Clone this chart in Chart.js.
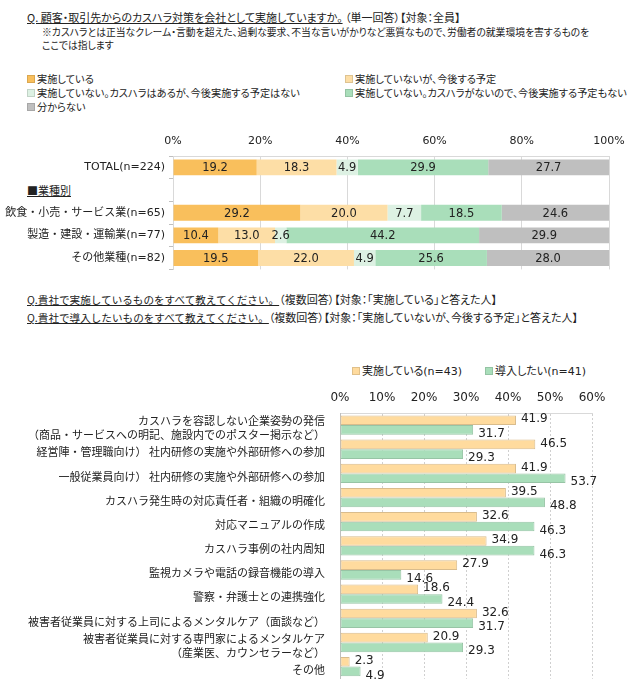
<!DOCTYPE html>
<html lang="ja">
<head>
<meta charset="UTF-8">
<title>カスハラ対策の実施状況</title>
<style>
    * { margin: 0; padding: 0; box-sizing: border-box; }
    body {
        width: 636px; height: 700px; position: relative; overflow: hidden;
        background: #fff; color: #222;
        font-family: "Noto Sans CJK JP", sans-serif; font-size: 11px;
    }
    .txt {
        position: absolute; white-space: nowrap; line-height: 13px;
        font-feature-settings: "palt" 1;
    }
    .note { font-size: 9.8px; }
    .q2 u { font-feature-settings: normal; font-size: 10.6px; }
    .legend { position: absolute; white-space: nowrap; font-size: 10.2px; line-height: 14px; font-feature-settings: "palt" 1; }
    .legend span.item { position: absolute; white-space: nowrap; }
    .legend .box {
        display: inline-block; width: 8px; height: 8px; margin-right: 2px;
        vertical-align: 0px; border: 1px solid rgba(0,0,0,0.12);
    }
    #legend2 { font-family: "DejaVu Sans", "Noto Sans CJK JP", sans-serif; font-size: 11px; }
    canvas { position: absolute; left: 0; }
</style>
</head>
<body>

<div class="txt" style="left:27px; top:11px;"><u>Q. 顧客・取引先からのカスハラ対策を会社として実施していますか。</u> （単一回答）【対象：全員】</div>
<div class="txt note" style="left:42px; top:26px;">※カスハラとは正当なクレーム・言動を超えた、過剰な要求、不当な言いがかりなど悪質なもので、労働者の就業環境を害するものを</div>
<div class="txt note" style="left:42px; top:39px;">ここでは指します</div>

<div class="legend" id="legend1"></div>
<div class="txt" style="left:27px; top:184px;"><u>■業種別</u></div>
<canvas id="chart1" width="636" height="160" style="top:120px;"></canvas>

<div class="txt q2" style="left:27px; top:293px;"><u>Q.貴社で実施しているものをすべて教えてください。</u>（複数回答）【対象：「実施している」と答えた人】</div>
<div class="txt q2" style="left:27px; top:311px;"><u>Q.貴社で導入したいものをすべて教えてください。</u>（複数回答）【対象：「実施していないが、今後する予定」と答えた人】</div>

<div class="legend" id="legend2"></div>
<canvas id="chart2" width="636" height="317" style="top:383px;"></canvas>

<script src="https://cdn.jsdelivr.net/npm/chart.js"></script>
<script>
// ---- データ：実施状況（単一回答）
const groups1 = ['TOTAL(n=224)', '', '飲食・小売・サービス業(n=65)', '製造・建設・運輸業(n=77)', 'その他業種(n=82)'];
const answers1 = [
    '実施している',
    '実施していないが、今後する予定',
    '実施していない。カスハラはあるが、今後実施する予定はない',
    '実施していない。カスハラがないので、今後実施する予定もない',
    '分からない'
];
const implemented = [19.2, null, 29.2, 10.4, 19.5];
const planned = [18.3, null, 20.0, 13.0, 22.0];
const noPlanWithHarassment = [4.9, null, 7.7, 2.6, 4.9];
const noPlanNoHarassment = [29.9, null, 18.5, 44.2, 25.6];
const unknown = [27.7, null, 24.6, 29.9, 28.0];
const ticks1 = [0, 20, 40, 60, 80, 100];

// ---- データ：実施内容／導入希望（複数回答）
const measures = [
    ['カスハラを容認しない企業姿勢の発信', '（商品・サービスへの明記、施設内でのポスター掲示など）'],
    '経営陣・管理職向け） 社内研修の実施や外部研修への参加',
    '一般従業員向け） 社内研修の実施や外部研修への参加',
    'カスハラ発生時の対応責任者・組織の明確化',
    '対応マニュアルの作成',
    'カスハラ事例の社内周知',
    '監視カメラや電話の録音機能の導入',
    '警察・弁護士との連携強化',
    '被害者従業員に対する上司によるメンタルケア（面談など）',
    ['被害者従業員に対する専門家によるメンタルケア', '（産業医、カウンセラーなど）'],
    'その他'
];
const series2 = ['実施している(n=43)', '導入したい(n=41)'];
const doingNow = [41.9, 46.5, 41.9, 39.5, 32.6, 34.9, 27.9, 18.6, 32.6, 20.9, 2.3];
const wantToAdd = [31.7, 29.3, 53.7, 48.8, 46.3, 46.3, 14.6, 24.4, 31.7, 29.3, 4.9];
const ticks2 = [0, 10, 20, 30, 40, 50, 60];

const colors1 = ['#F9BF5C', '#FDDEA6', '#DDF1E3', '#A9DEBA', '#BFBFBF'];
const colors2 = ['#FFDB9E', '#A9DEBA'];
const borders2 = ['#D9BC8C', '#97C4A5'];

const numFont = "'DejaVu Sans', 'Noto Sans CJK JP', sans-serif";
const jpFont = "'Noto Sans CJK JP', sans-serif";

// 凡例（HTML）
function legendItem(color, text, left, top) {
    return '<span class="item" style="left:' + left + 'px; top:' + top + 'px;">' +
        '<span class="box" style="background:' + color + '"></span>' + text + '</span>';
}
const pos1 = [[27, 72], [345, 72], [27, 86], [345, 86], [27, 100]];
document.getElementById('legend1').innerHTML =
    answers1.map((a, i) => legendItem(colors1[i], a, pos1[i][0], pos1[i][1])).join('');
document.getElementById('legend2').innerHTML =
    legendItem(colors2[0], series2[0], 352, 365) + legendItem(colors2[1], series2[1], 485, 365);

// 数値ラベル
const valueLabels = {
    id: 'valueLabels',
    afterDatasetsDraw(chart, args, opts) {
        const ctx = chart.ctx;
        ctx.save();
        ctx.font = opts.font;
        ctx.fillStyle = '#222';
        chart.data.datasets.forEach((ds, i) => {
            chart.getDatasetMeta(i).data.forEach((bar, j) => {
                const v = ds.data[j];
                if (v == null) return;
                const text = v.toFixed(1);
                ctx.textBaseline = 'middle';
                if (opts.inside) {
                    ctx.textAlign = 'center';
                    ctx.fillText(text, (bar.x + bar.base) / 2, bar.y + 1);
                } else {
                    ctx.textAlign = 'left';
                    ctx.fillText(text, bar.x + 5, bar.y + opts.shift[i]);
                }
            });
        });
        ctx.restore();
    }
};

const datasets1 = [implemented, planned, noPlanWithHarassment, noPlanNoHarassment, unknown].map((d, i) => ({
    label: answers1[i],
    data: d,
    backgroundColor: colors1[i],
    borderWidth: 0,
    barPercentage: 0.7,
    categoryPercentage: 1.0
}));

new Chart(document.getElementById('chart1'), {
    type: 'bar',
    data: { labels: groups1, datasets: datasets1 },
    plugins: [valueLabels],
    options: {
        indexAxis: 'y',
        responsive: false,
        animation: false,
        layout: { padding: { left: 0, right: 27, top: 0, bottom: 7 } },
        plugins: {
            legend: { display: false },
            tooltip: { enabled: false },
            valueLabels: { inside: true, font: '11.5px ' + numFont }
        },
        scales: {
            x: {
                position: 'top',
                stacked: true,
                min: 0, max: 100,
                afterBuildTicks: s => { s.ticks = ticks1.map(v => ({ value: v })); },
                afterFit: s => { s.height = 36; },
                ticks: { padding: 8, color: '#222', font: { family: numFont, size: 11 }, callback: v => v + '%' },
                grid: { color: '#D9D9D9', drawTicks: false },
                border: { color: '#D9D9D9' }
            },
            y: {
                stacked: true,
                afterFit: s => { s.width = 173; },
                ticks: { autoSkip: false, padding: 4, color: '#222', font: { family: numFont, size: 11 } },
                grid: { offset: true, drawOnChartArea: false, tickLength: 4, color: '#BFBFBF' },
                border: { color: '#D9D9D9' }
            }
        }
    }
});

new Chart(document.getElementById('chart2'), {
    type: 'bar',
    data: {
        labels: measures,
        datasets: [doingNow, wantToAdd].map((d, i) => ({
            label: series2[i],
            data: d,
            backgroundColor: colors2[i],
            borderColor: borders2[i],
            borderWidth: 1,
            borderSkipped: false,
            barPercentage: 1.0,
            categoryPercentage: 0.8
        }))
    },
    plugins: [valueLabels],
    options: {
        indexAxis: 'y',
        responsive: false,
        animation: false,
        layout: { padding: { left: 0, right: 44, top: 0, bottom: 10 } },
        plugins: {
            legend: { display: false },
            tooltip: { enabled: false },
            valueLabels: { inside: false, font: '12px ' + numFont, shift: [-1, 4] }
        },
        scales: {
            x: {
                position: 'top',
                min: 0, max: 60,
                afterBuildTicks: s => { s.ticks = ticks2.map(v => ({ value: v })); },
                afterFit: s => { s.height = 30; },
                ticks: { padding: 8, color: '#222', font: { family: numFont, size: 12 }, callback: v => v + '%' },
                grid: { color: '#CFCFCF', drawTicks: false },
                border: { color: '#D9D9D9', dash: [2, 2] }
            },
            y: {
                afterFit: s => { s.width = 340; },
                ticks: { autoSkip: false, padding: 7, labelOffset: 3, color: '#222', font: { family: jpFont, size: 11, lineHeight: 1.3 } },
                grid: { display: false },
                border: { color: '#BFBFBF' }
            }
        }
    }
});
</script>
</body>
</html>
